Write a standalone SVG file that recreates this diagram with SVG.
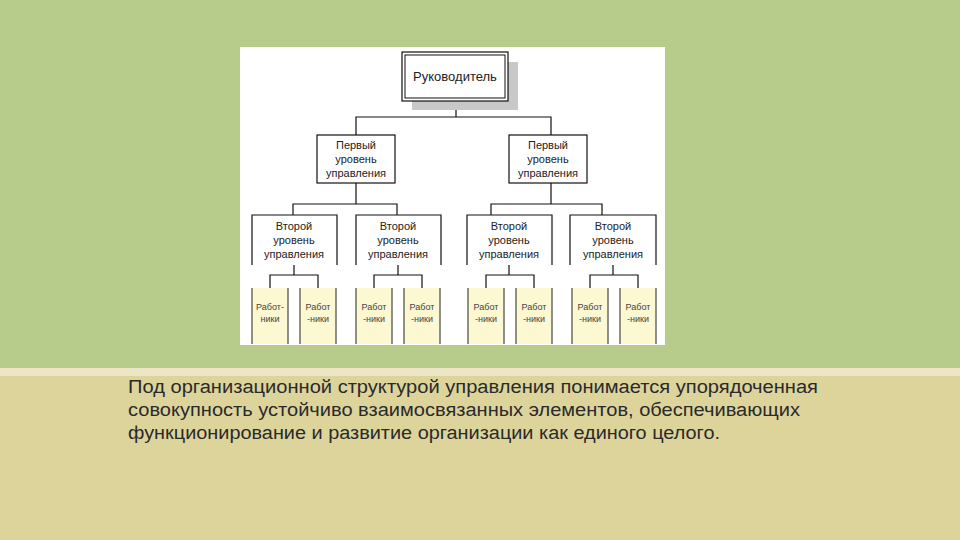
<svg xmlns="http://www.w3.org/2000/svg" width="960" height="540" viewBox="0 0 960 540">
<style>
.t{font-family:"Liberation Sans",Arial,sans-serif;fill:#222;text-anchor:middle}
.s{font-size:11px}
.w{font-size:9px;fill:#444}
.p{font-family:"Liberation Sans",Arial,sans-serif;font-size:18px;fill:#2a2a2a}
.ln{stroke:#111;stroke-width:1.2;fill:none}
.wk{fill:#fbf8d2;stroke:#222;stroke-width:1;stroke-dasharray:0 36 56 36 56}
</style>
<rect width="960" height="540" fill="#b7cb8b"/>
<rect y="372" width="960" height="168" fill="#ddd49c"/>
<rect y="368" width="960" height="8" fill="#ece6c4"/>
<rect x="240" y="47" width="425" height="298" fill="#fff"/>
<g id="connectors" class="ln">
<path d="M456 101V117M356 135V117H551V135"/>
<path d="M356 183V204M293 215V204H397V215"/>
<path d="M551 183V204M491 215V204H602V215"/>
<path d="M294 265V275M270 288V275H318V288"/>
<path d="M398 265V275M374 288V275H422V288"/>
<path d="M509 265V275M486 288V275H534V288"/>
<path d="M613 265V275M590 288V275H638V288"/>
</g>
<g id="boss">
<rect x="412" y="62" width="106" height="48" fill="#c8c8c8"/>
<rect x="402" y="52" width="106" height="49" fill="#fff" stroke="#111" stroke-width="1.2"/>
<rect x="405" y="55" width="100" height="43" fill="none" stroke="#111" stroke-width="1"/>
<text class="t" x="455" y="81" font-size="13">Руководитель</text>
</g>
<g id="l1a"><rect x="317" y="135" width="78" height="48" fill="#fff" stroke="#111" stroke-width="1.2"/>
<text class="t s" x="356" y="149">Первый</text><text class="t s" x="356" y="163">уровень</text><text class="t s" x="356" y="177">управления</text></g>
<g id="l1b"><rect x="509" y="135" width="78" height="48" fill="#fff" stroke="#111" stroke-width="1.2"/>
<text class="t s" x="548" y="149">Первый</text><text class="t s" x="548" y="163">уровень</text><text class="t s" x="548" y="177">управления</text></g>
<g id="l2a"><path class="ln" d="M252 265V215H337V265"/><text class="t s" x="294" y="230">Второй</text><text class="t s" x="294" y="244">уровень</text><text class="t s" x="294" y="258">управления</text></g>
<g id="l2b"><path class="ln" d="M356 265V215H441V265"/><text class="t s" x="398" y="230">Второй</text><text class="t s" x="398" y="244">уровень</text><text class="t s" x="398" y="258">управления</text></g>
<g id="l2c"><path class="ln" d="M467 265V215H552V265"/><text class="t s" x="509" y="230">Второй</text><text class="t s" x="509" y="244">уровень</text><text class="t s" x="509" y="258">управления</text></g>
<g id="l2d"><path class="ln" d="M570 265V215H656V265"/><text class="t s" x="613" y="230">Второй</text><text class="t s" x="613" y="244">уровень</text><text class="t s" x="613" y="258">управления</text></g>
<g id="w1"><rect class="wk" x="252" y="288" width="36" height="56"/><text class="t w" x="270" y="310">Работ-</text><text class="t w" x="270" y="322">ники</text></g>
<g id="w2"><rect class="wk" x="300" y="288" width="36" height="56"/><text class="t w" x="318" y="310">Работ</text><text class="t w" x="318" y="322">-ники</text></g>
<g id="w3"><rect class="wk" x="356" y="288" width="36" height="56"/><text class="t w" x="374" y="310">Работ</text><text class="t w" x="374" y="322">-ники</text></g>
<g id="w4"><rect class="wk" x="404" y="288" width="36" height="56"/><text class="t w" x="422" y="310">Работ</text><text class="t w" x="422" y="322">-ники</text></g>
<g id="w5"><rect class="wk" x="468" y="288" width="36" height="56"/><text class="t w" x="486" y="310">Работ</text><text class="t w" x="486" y="322">-ники</text></g>
<g id="w6"><rect class="wk" x="516" y="288" width="36" height="56"/><text class="t w" x="534" y="310">Работ</text><text class="t w" x="534" y="322">-ники</text></g>
<g id="w7"><rect class="wk" x="572" y="288" width="36" height="56"/><text class="t w" x="590" y="310">Работ</text><text class="t w" x="590" y="322">-ники</text></g>
<g id="w8"><rect class="wk" x="620" y="288" width="36" height="56"/><text class="t w" x="638" y="310">Работ</text><text class="t w" x="638" y="322">-ники</text></g>
<text class="p" x="128" y="393" textLength="690" lengthAdjust="spacingAndGlyphs">Под организационной структурой управления понимается упорядоченная</text>
<text class="p" x="128" y="416" textLength="672" lengthAdjust="spacingAndGlyphs">совокупность устойчиво взаимосвязанных элементов, обеспечивающих</text>
<text class="p" x="128" y="439" textLength="592" lengthAdjust="spacingAndGlyphs">функционирование и развитие организации как единого целого.</text>
</svg>
